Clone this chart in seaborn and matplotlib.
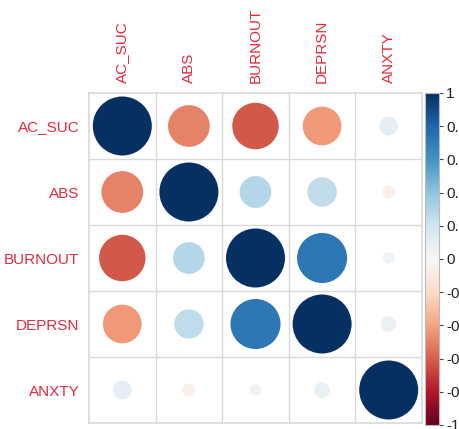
import numpy as np
import pandas as pd
import seaborn as sns
import matplotlib
matplotlib.use("Agg")
import matplotlib.pyplot as plt
from matplotlib.colors import Normalize
from matplotlib.cm import ScalarMappable

variables = ["AC_SUC", "ABS", "BURNOUT", "DEPRSN", "ANXTY"]
r_ac_suc = [1.00, -0.50, -0.62, -0.43, 0.10]
r_abs = [-0.50, 1.00, 0.29, 0.25, -0.05]
r_burnout = [-0.62, 0.29, 1.00, 0.72, 0.04]
r_deprsn = [-0.43, 0.25, 0.72, 1.00, 0.07]
r_anxty = [0.10, -0.05, 0.04, 0.07, 1.00]
cbar_ticks = [-1, -0.8, -0.6, -0.4, -0.2, 0, 0.2, 0.4, 0.6, 0.8, 1]
cbar_ticklabels = ["-1", "-0.8", "-0.6", "-0.4", "-0.2", "0", "0.2", "0.4", "0.6", "0.8", "1"]

corr = pd.DataFrame([r_ac_suc, r_abs, r_burnout, r_deprsn, r_anxty],
                    index=variables, columns=variables)
long = corr.reset_index().melt(id_vars="index", var_name="col", value_name="r")
long = long.rename(columns={"index": "row"})
long["xi"] = long["col"].map({v: i for i, v in enumerate(variables)})
long["yi"] = long["row"].map({v: i for i, v in enumerate(variables)})
long["absr"] = long["r"].abs()

sns.set_style("white")
plt.rcParams["font.family"] = ["Liberation Sans", "DejaVu Sans"]

W, H = 460, 429
fig = plt.figure(figsize=(W / 100, H / 100), dpi=100)
ax = fig.add_axes([89 / W, (H - 423) / H, 333 / W, 330 / H])

# circle area proportional to |r|; full-size circle ~59 px across
dmax_pt = 59 * 72 / 100
sns.scatterplot(data=long, x="xi", y="yi", hue="r", palette="RdBu",
                hue_norm=(-1, 1), size="absr", sizes=(0, dmax_pt ** 2),
                size_norm=(0, 1), linewidth=0, legend=False, ax=ax, zorder=3)

n = len(variables)
ax.set_xlim(-0.5, n - 0.5)
ax.set_ylim(n - 0.5, -0.5)
grid_c = "#d9d9d9"
for k in range(1, n):
    ax.axvline(k - 0.5, color=grid_c, lw=1, zorder=1)
    ax.axhline(k - 0.5, color=grid_c, lw=1, zorder=1)
for s in ax.spines.values():
    s.set_color(grid_c)
    s.set_linewidth(1.2)

label_c = "#e8283c"
ax.xaxis.tick_top()
ax.set_xticks(range(n))
ax.set_xticklabels(variables, rotation=90, color=label_c, fontsize=11)
ax.set_yticks(range(n))
ax.set_yticklabels(variables, color=label_c, fontsize=11)
ax.tick_params(length=0, pad=7)
ax.set_xlabel("")
ax.set_ylabel("")

cax = fig.add_axes([425 / W, (H - 425) / H, 14 / W, 332 / H])
sm = ScalarMappable(norm=Normalize(-1, 1), cmap="RdBu")
cb = fig.colorbar(sm, cax=cax, ticks=cbar_ticks)
cb.ax.set_yticklabels(cbar_ticklabels, fontsize=11, color="#222222")
cb.ax.tick_params(length=3, width=0.8, pad=2, color="#444444")
cb.outline.set_edgecolor("#bbbbbb")
cb.outline.set_linewidth(0.8)

fig.savefig("out.png", dpi=100)
